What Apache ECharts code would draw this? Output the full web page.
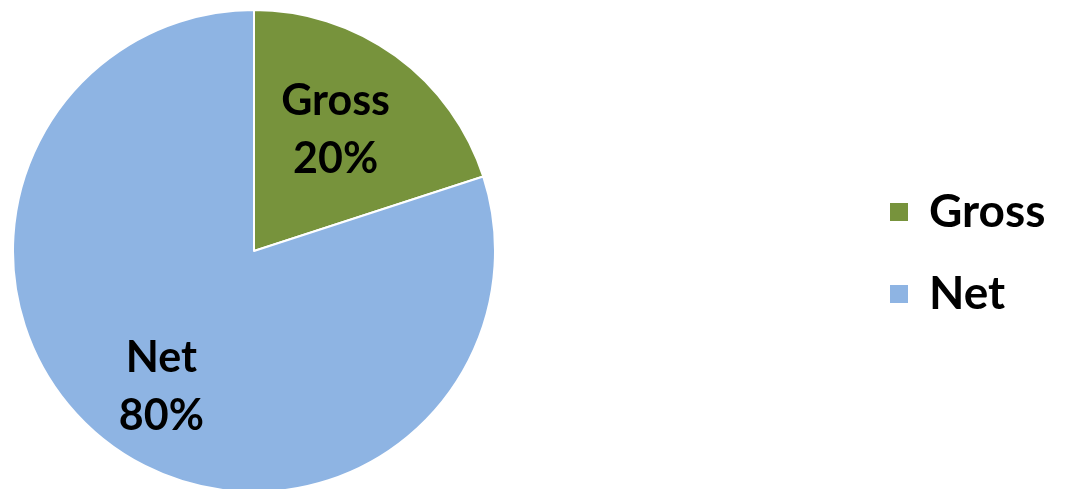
<!DOCTYPE html>
<html>
<head>
<meta charset="utf-8">
<script src="https://cdn.jsdelivr.net/npm/echarts@6/dist/echarts.min.js"></script>
<style>
  html, body { margin: 0; padding: 0; background: #fff; }
  #chart { width: 1072px; height: 489px; }
</style>
</head>
<body>
<div id="chart"></div>
<script>
// 饼图数据
const categories = ['Gross', 'Net'];
const values = [20, 80];
const colors = ['#77933C', '#8EB4E3'];
// 标签微调（Excel 的标签比 ECharts 默认位置更靠外）
const labelShift = [[9, -21], [-20, 36]];

const chart = echarts.init(document.getElementById('chart'));
const font = 'Lato, "Open Sans", sans-serif';

chart.setOption({
  animation: false,
  backgroundColor: '#fff',
  legend: {
    orient: 'vertical',
    left: 885,
    top: 183,
    itemWidth: 18,
    itemHeight: 18,
    itemGap: 34,
    icon: 'rect',
    itemStyle: { borderWidth: 0, borderColor: 'transparent' },
    textStyle: {
      fontFamily: font, fontWeight: 'bold', fontSize: 46, color: '#000',
      lineHeight: 48, padding: [0, 0, 0, 16],
    },
    data: categories,
  },
  series: [{
    type: 'pie',
    center: [254, 251],
    radius: 241,
    startAngle: 90,
    clockwise: true,
    label: {
      show: true,
      position: 'inside',
      formatter: '{b}\n{d}%',
      fontFamily: font,
      fontWeight: 'bold',
      fontSize: 43,
      lineHeight: 58,
      color: '#000',
    },
    labelLayout: (p) => ({ dx: labelShift[p.dataIndex][0], dy: labelShift[p.dataIndex][1] }),
    labelLine: { show: false },
    emphasis: { disabled: true },
    data: categories.map((name, i) => ({
      name,
      value: values[i],
      itemStyle: { color: colors[i], borderColor: '#fff', borderWidth: 2 },
    })),
  }],
});
</script>
</body>
</html>
